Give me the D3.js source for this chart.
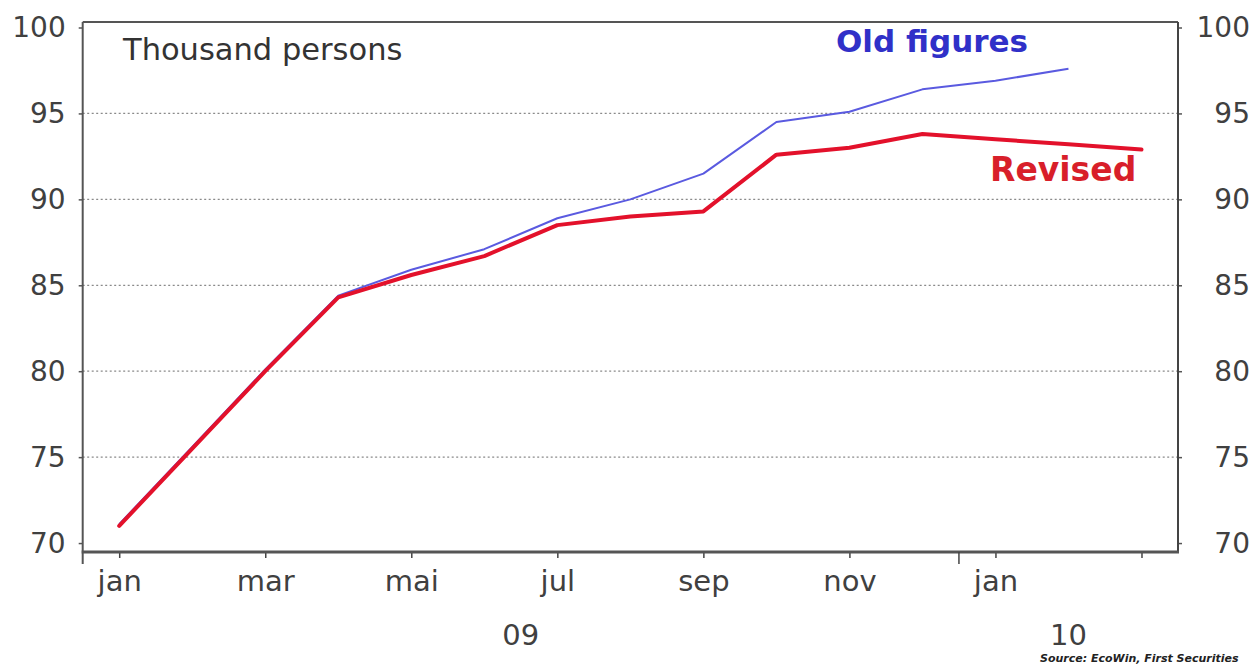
<!DOCTYPE html>
<html>
<head>
<meta charset="utf-8">
<script src="https://cdn.jsdelivr.net/npm/d3@7"></script>
<style>
  html, body { margin: 0; padding: 0; background: #fff; }
  svg { display: block; }
  text { font-family: "DejaVu Sans", Verdana, sans-serif; }
</style>
</head>
<body>
<svg id="chart" width="1251" height="664"></svg>
<script>
// Monthly employment, thousand persons, Jan 2009 - Mar 2010
const months = ["jan", "feb", "mar", "apr", "mai", "jun", "jul", "aug", "sep", "okt", "nov", "des", "jan", "feb", "mar"];
const monthYear = ["09", "09", "09", "09", "09", "09", "09", "09", "09", "09", "09", "09", "10", "10", "10"];
const years = ["09", "10"];
const oldFigures = [71.1, 75.6, 80.1, 84.4, 85.9, 87.1, 88.9, 90.0, 91.5, 94.5, 95.1, 96.4, 96.9, 97.6];
const revised = [71.0, 75.5, 80.0, 84.3, 85.6, 86.7, 88.5, 89.0, 89.3, 92.6, 93.0, 93.8, 93.5, 93.2, 92.9];
const yTicks = [70, 75, 80, 85, 90, 95, 100];
const gridValues = [75, 80, 85, 90, 95];

const svg = d3.select("#chart");
const plotLeft = 82.7, plotRight = 1178, plotTop = 22, plotBottom = 552;

const x = d3.scaleBand().domain(d3.range(months.length)).range([plotLeft, plotRight]).padding(0);
const xc = i => x(i) + x.bandwidth() / 2;
const y = d3.scaleLinear().domain([69.48, 100.32]).range([plotBottom, plotTop]);

// dotted gridlines
svg.append("g").selectAll("line").data(gridValues).join("line")
  .attr("x1", plotLeft).attr("x2", plotRight)
  .attr("y1", d => y(d)).attr("y2", d => y(d))
  .attr("stroke", "#8a8a8a").attr("stroke-width", 1.2)
  .attr("stroke-dasharray", "2,2.5");

// left axis
const yLeft = d3.axisLeft(y).tickValues(yTicks).tickSize(4).tickPadding(13);
const gl = svg.append("g").attr("transform", `translate(${plotLeft},0)`).call(yLeft);
gl.select(".domain").remove();
gl.selectAll(".tick line").attr("stroke", "#555").attr("stroke-width", 1.5);
gl.selectAll(".tick text").attr("font-size", 28).attr("fill", "#404040")
  .attr("font-family", "'DejaVu Sans', Verdana, sans-serif");

// right axis (labels right-aligned at page edge)
const yRight = d3.axisRight(y).tickValues(yTicks).tickSize(4).tickPadding(0);
const gr = svg.append("g").attr("transform", `translate(${plotRight},0)`).call(yRight);
gr.select(".domain").remove();
gr.selectAll(".tick line").attr("stroke", "#555").attr("stroke-width", 1.5);
gr.selectAll(".tick text").attr("font-size", 28).attr("fill", "#404040")
  .attr("text-anchor", "end").attr("x", 1250 - plotRight)
  .attr("font-family", "'DejaVu Sans', Verdana, sans-serif");

// frame
svg.append("line").attr("x1", plotLeft).attr("x2", plotRight).attr("y1", plotTop).attr("y2", plotTop)
  .attr("stroke", "#555").attr("stroke-width", 2);
svg.append("line").attr("x1", plotRight).attr("x2", plotRight).attr("y1", plotTop).attr("y2", plotBottom)
  .attr("stroke", "#444").attr("stroke-width", 2);
svg.append("line").attr("x1", plotLeft).attr("x2", plotLeft).attr("y1", plotTop).attr("y2", plotBottom + 12)
  .attr("stroke", "#555").attr("stroke-width", 2);

// bottom axis: ticks on every other month, labels except the last
const tickIdx = d3.range(0, months.length, 2);
const xAxis = d3.axisBottom(d3.scalePoint().domain(d3.range(months.length)).range([xc(0), xc(months.length - 1)]))
  .tickValues(tickIdx).tickSize(6).tickPadding(12)
  .tickFormat(i => i === months.length - 1 ? "" : months[i]);
const gx = svg.append("g").attr("transform", `translate(0,${plotBottom})`).call(xAxis);
gx.select(".domain").remove();
gx.selectAll(".tick line").attr("stroke", "#444").attr("stroke-width", 1.5);
gx.selectAll(".tick text").attr("font-size", 29).attr("fill", "#404040")
  .attr("font-family", "'DejaVu Sans', Verdana, sans-serif");
svg.append("line").attr("x1", plotLeft - 1).attr("x2", plotRight + 1).attr("y1", plotBottom).attr("y2", plotBottom)
  .attr("stroke", "#555").attr("stroke-width", 3);

// year boundary and year labels
const yearStart = years.map(yr => monthYear.indexOf(yr));
yearStart.slice(1).forEach(i => {
  svg.append("line").attr("x1", x(i)).attr("x2", x(i)).attr("y1", plotBottom).attr("y2", plotBottom + 12)
    .attr("stroke", "#444").attr("stroke-width", 1.5);
});
years.forEach((yr, k) => {
  const a = x(yearStart[k]);
  const b = k + 1 < years.length ? x(yearStart[k + 1]) : plotRight;
  svg.append("text").attr("x", (a + b) / 2).attr("y", 645)
    .attr("text-anchor", "middle").attr("font-size", 29).attr("fill", "#404040").text(yr);
});

// series
const line = d3.line().x((d, i) => xc(i)).y(d => y(d));
svg.append("path").datum(oldFigures).attr("d", line)
  .attr("fill", "none").attr("stroke", "#5a5ae0").attr("stroke-width", 2)
  .attr("stroke-linejoin", "round");
svg.append("path").datum(revised).attr("d", line)
  .attr("fill", "none").attr("stroke", "#e3112b").attr("stroke-width", 4)
  .attr("stroke-linejoin", "round").attr("stroke-linecap", "round");

// labels
svg.append("text").attr("x", 123).attr("y", 60).attr("font-size", 30.5).attr("fill", "#333")
  .text("Thousand persons");
svg.append("text").attr("x", 836).attr("y", 52).attr("font-size", 31).attr("font-weight", "bold")
  .attr("fill", "#3030c8").text("Old figures");
svg.append("text").attr("x", 990).attr("y", 181).attr("font-size", 33).attr("font-weight", "bold")
  .attr("fill", "#d81f2a").text("Revised");

// source note
svg.append("text").attr("x", 1040).attr("y", 662).attr("font-size", 11)
  .attr("font-style", "italic").attr("font-weight", "bold").attr("fill", "#222")
  .attr("font-family", "'Liberation Sans', Arial, sans-serif")
  .text("Source: EcoWin, First Securities");
</script>
</body>
</html>
